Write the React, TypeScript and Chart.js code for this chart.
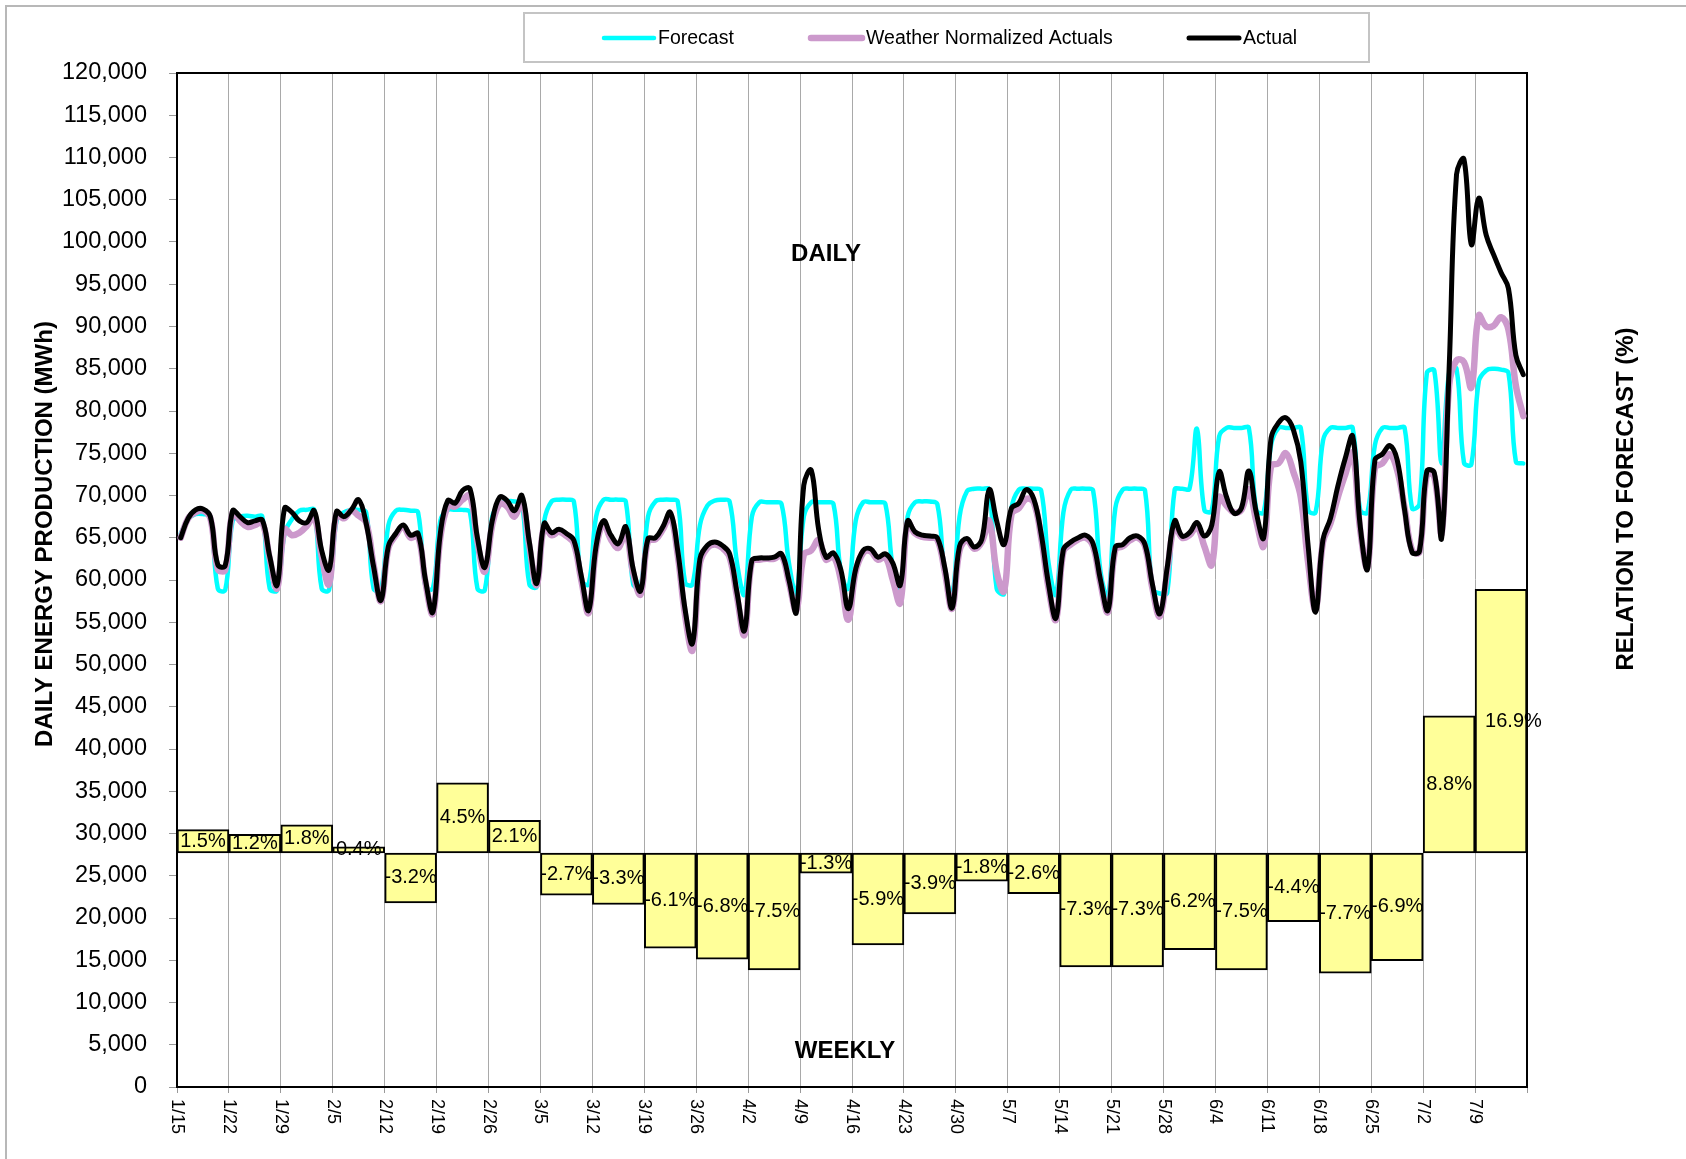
import React, { useEffect, useRef } from 'react';
import { Chart, registerables } from 'chart.js';

Chart.register(...registerables);

// Weekly tick labels (one every 7 days starting 1/15)
const TICK_LABELS = ['1/15', '1/22', '1/29', '2/5', '2/12', '2/19', '2/26', '3/5', '3/12', '3/19', '3/26', '4/2', '4/9', '4/16', '4/23', '4/30', '5/7', '5/14', '5/21', '5/28', '6/4', '6/11', '6/18', '6/25', '7/2', '7/9'];

// Weekly relation to forecast (%)
const WEEKLY_PCT = [1.5, 1.2, 1.8, 0.4, -3.2, 4.5, 2.1, -2.7, -3.3, -6.1, -6.8, -7.5, -1.3, -5.9, -3.9, -1.8, -2.6, -7.3, -7.3, -6.2, -7.5, -4.4, -7.7, -6.9, 8.8, 16.9];

// Daily values (MWh), 1/15 .. 7/15
const FORECAST = [
  65500, 67200, 67800, 67800, 67500, 59000, 58800,
  67000, 67500, 67600, 67500, 67500, 59000, 58800,
  65500, 67200, 68200, 68300, 68300, 59000, 58800,
  67000, 68000, 68300, 68300, 68000, 59000, 58800,
  66500, 68200, 68300, 68200, 68000, 59200, 59000,
  67000, 68300, 68300, 68300, 68000, 59000, 58800,
  67500, 69000, 69300, 69300, 69000, 59500, 59200,
  67000, 69300, 69500, 69500, 69300, 60000, 59500,
  67500, 69500, 69500, 69500, 69300, 59500, 59200,
  67500, 69300, 69500, 69500, 69300, 59700, 59500,
  66500, 68800, 69400, 69500, 69300, 62000, 58300,
  67500, 69200, 69200, 69200, 69000, 62000, 58400,
  67500, 69200, 69200, 69200, 69000, 61000, 59000,
  67000, 69200, 69200, 69200, 69000, 61500, 59000,
  67500, 69200, 69300, 69300, 69000, 61000, 58300,
  67500, 70500, 70800, 70800, 70700, 59000, 58400,
  68500, 70700, 70800, 70800, 70600, 62000, 58300,
  68000, 70700, 70800, 70800, 70600, 61000, 58000,
  68500, 70700, 70800, 70800, 70600, 59000, 58400,
  58500, 70700, 70800, 70800, 77900, 68300, 68200,
  77000, 78000, 78000, 78000, 78000, 68300, 68000,
  76000, 78000, 78000, 78000, 78000, 68300, 68000,
  76500, 78000, 78000, 78000, 78000, 68300, 68000,
  76000, 78000, 78000, 78000, 78000, 68500, 69000,
  84500, 84800, 73800, 84500, 85000, 73900, 73700,
  83500, 84800, 85000, 84900, 84500, 74000, 73800,
];

const WEATHER_NORMALIZED = [
  65000, 67300, 68000, 68200, 67300, 61300, 61200,
  68000, 67000, 66300, 66500, 66800, 62500, 59000,
  66000, 65300, 65600, 66400, 67500, 62800, 59500,
  67800, 67300, 68200, 67600, 66800, 61800, 57500,
  63800, 65300, 66300, 65000, 65200, 59700, 56000,
  65000, 68700, 68700, 69500, 70000, 64500, 61000,
  66500, 69000, 68700, 67500, 69300, 64000, 59400,
  66400, 65300, 65700, 65200, 64300, 60000, 56100,
  63700, 66600, 64800, 63800, 65700, 60800, 58300,
  64700, 64800, 66000, 67600, 63000, 55800, 51700,
  62000, 63800, 64200, 63800, 62700, 58000, 53500,
  62200, 62400, 62500, 62500, 62900, 59700, 56400,
  63000, 63500, 64700, 62400, 62800, 60000, 55300,
  61000, 63200, 63400, 62400, 62700, 60000, 57300,
  66800, 65500, 65100, 65000, 64800, 61000, 56600,
  63500, 64700, 63700, 64500, 67000, 61000, 58700,
  67800, 68500, 69600, 69200, 65000, 59000, 55300,
  63400, 64200, 64800, 65000, 64000, 59600, 56200,
  63600, 64000, 64700, 65000, 64000, 59000, 55700,
  61000, 66500, 65000, 65300, 66300, 64000, 61800,
  69800, 68800, 68000, 68300, 70700, 67000, 64000,
  73500, 73800, 75000, 72800, 69800, 62000, 56500,
  64500, 66700, 69800, 72500, 75000, 66000, 61500,
  73300, 73800, 74900, 73000, 68500, 63500, 63300,
  72500, 72200, 65500, 83000, 86000, 85800, 82800,
  91300, 90000, 90100, 91100, 89600, 83000, 79400,
];

const ACTUAL = [
  65000, 67300, 68300, 68400, 67500, 61800, 61700,
  68200, 67500, 66800, 67000, 67100, 62800, 59400,
  68500, 68000, 67000, 66800, 68200, 63500, 61200,
  68100, 67500, 68300, 69500, 66700, 61600, 57600,
  64000, 65500, 66500, 65300, 65500, 60000, 56200,
  65500, 69400, 69100, 70600, 70800, 65000, 61500,
  67000, 69800, 69400, 68200, 70000, 64500, 59600,
  66700, 65600, 66000, 65500, 64700, 60500, 56400,
  64000, 67000, 65300, 64300, 66300, 61300, 58700,
  64900, 65000, 66300, 68000, 63500, 56500, 52500,
  62500, 64100, 64500, 64100, 63100, 58500, 54000,
  62300, 62600, 62600, 62700, 63100, 60000, 56200,
  71200, 73000, 66000, 62700, 63200, 61200, 56600,
  61300, 63500, 63700, 62700, 63100, 62000, 59400,
  67000, 65700, 65300, 65200, 65000, 61500, 56700,
  64000, 64900, 63900, 64800, 70700, 67000, 64200,
  68500, 69100, 70700, 69600, 65500, 59500, 55500,
  63600, 64500, 65000, 65300, 64300, 60000, 56400,
  63900, 64200, 65000, 65200, 64200, 59500, 56000,
  61500, 67000, 65200, 65600, 66800, 65200, 66500,
  72800, 69800, 67900, 68500, 72900, 68000, 65000,
  76800, 78600, 79200, 77800, 74000, 64000, 56200,
  64800, 67300, 71100, 74400, 77000, 66500, 61300,
  74200, 74900, 75900, 74200, 68300, 63300, 63400,
  72900, 72700, 65000, 85000, 108000, 109800, 99700,
  105200, 100800, 98500, 96400, 94500, 86600, 84300,
];

const SERIES_LABELS = ['Forecast', 'Weather Normalized Actuals', 'Actual'];
const SERIES_COLORS = ['#00FFFF', '#CC99CC', '#000000'];
const SERIES_WIDTHS = [4.5, 6.5, 5];
const DAYS_ON_AXIS = 182;

const FONT = '"Liberation Sans", Arial, Helvetica, sans-serif';
const W = 1686;
const H = 1159;

const toPoints = (arr: number[]) => arr.map((v, i) => ({ x: i + 0.5, y: v }));

const decorPlugin = {
  id: 'decor',
  beforeDraw(chart: any) {
    const ctx = chart.ctx;
    ctx.save();
    ctx.fillStyle = '#ffffff';
    ctx.fillRect(0, 0, chart.width, chart.height);
    ctx.strokeStyle = '#b8b8b8';
    ctx.lineWidth = 2;
    ctx.beginPath();
    ctx.moveTo(6, chart.height + 5);
    ctx.lineTo(6, 6);
    ctx.lineTo(chart.width + 5, 6);
    ctx.stroke();
    ctx.restore();
  },
  afterDatasetsDraw(chart: any) {
    const ctx = chart.ctx;
    const area = chart.chartArea;
    ctx.save();
    // top frame line of the plot area
    ctx.strokeStyle = '#000';
    ctx.lineWidth = 2;
    ctx.beginPath();
    ctx.moveTo(area.left, area.top);
    ctx.lineTo(area.right, area.top);
    ctx.stroke();
    // bar value labels
    const meta = chart.getDatasetMeta(3);
    ctx.fillStyle = '#000';
    ctx.font = `20px ${FONT}`;
    ctx.textBaseline = 'middle';
    meta.data.forEach((el: any, i: number) => {
      const p = el.getProps(['x', 'y', 'base', 'width'], true);
      const txt = `${WEEKLY_PCT[i].toFixed(1)}%`;
      const tw = ctx.measureText(txt).width;
      const cy = (p.y + p.base) / 2;
      if (tw > p.width + 4) {
        // wide labels start a little inside the bar, as in the original
        ctx.textAlign = 'left';
        ctx.fillText(txt, p.x - p.width / 2 + 10, cy);
      } else {
        ctx.textAlign = 'center';
        ctx.fillText(txt, p.x, cy);
      }
    });
    ctx.restore();
  },
  afterDraw(chart: any) {
    const ctx = chart.ctx;
    ctx.save();
    // legend box
    ctx.strokeStyle = '#c4c4c4';
    ctx.lineWidth = 2;
    ctx.strokeRect(524, 13, 845, 49);
    const legendPos = [
      [604, 654, 658],
      [811, 862, 866],
      [1189, 1239, 1243],
    ];
    const ly = 38;
    ctx.font = `19.5px ${FONT}`;
    ctx.textBaseline = 'middle';
    ctx.textAlign = 'left';
    for (let i = 0; i < 3; i++) {
      const [x1, x2, tx] = legendPos[i];
      ctx.strokeStyle = SERIES_COLORS[i];
      ctx.lineWidth = SERIES_WIDTHS[i];
      ctx.lineCap = 'round';
      ctx.beginPath();
      ctx.moveTo(x1, ly);
      ctx.lineTo(x2, ly);
      ctx.stroke();
      ctx.fillStyle = '#000';
      ctx.fillText(SERIES_LABELS[i], tx, ly + 1);
    }
    // axis titles
    ctx.fillStyle = '#000';
    ctx.font = `bold 24px ${FONT}`;
    ctx.textAlign = 'center';
    ctx.textBaseline = 'middle';
    ctx.save();
    ctx.translate(45, 534);
    ctx.rotate(-Math.PI / 2);
    ctx.fillText('DAILY ENERGY PRODUCTION (MWh)', 0, 0);
    ctx.restore();
    ctx.save();
    ctx.translate(1626, 499);
    ctx.rotate(-Math.PI / 2);
    ctx.fillText('RELATION TO FORECAST (%)', 0, 0);
    ctx.restore();
    // in-plot titles
    ctx.fillText('DAILY', 826, 254);
    ctx.fillText('WEEKLY', 845, 1051);
    // x tick labels, rotated clockwise
    const xs = chart.scales.x;
    ctx.font = `18px ${FONT}`;
    ctx.textAlign = 'left';
    ctx.textBaseline = 'middle';
    TICK_LABELS.forEach((lab, i) => {
      const x = xs.getPixelForValue(i * 7);
      ctx.save();
      ctx.translate(x, chart.chartArea.bottom + 12);
      ctx.rotate(Math.PI / 2);
      ctx.fillText(lab, 0, 0);
      ctx.restore();
    });
    ctx.restore();
  },
};

export default function App() {
  const ref = useRef<HTMLCanvasElement | null>(null);

  useEffect(() => {
    document.body.style.margin = '0';
    const canvas = ref.current;
    if (!canvas) return;
    const lineCommon = {
      type: 'line',
      pointRadius: 0,
      tension: 0.4,
      borderCapStyle: 'round',
      borderJoinStyle: 'round',
      xAxisID: 'x',
      yAxisID: 'y',
    };
    const chart = new Chart(canvas, {
      type: 'line',
      data: {
        datasets: [
          {
            ...lineCommon,
            label: SERIES_LABELS[0],
            data: toPoints(FORECAST),
            borderColor: SERIES_COLORS[0],
            borderWidth: SERIES_WIDTHS[0],
            order: 3,
          },
          {
            ...lineCommon,
            label: SERIES_LABELS[1],
            data: toPoints(WEATHER_NORMALIZED),
            borderColor: SERIES_COLORS[1],
            borderWidth: SERIES_WIDTHS[1],
            order: 2,
          },
          {
            ...lineCommon,
            label: SERIES_LABELS[2],
            data: toPoints(ACTUAL),
            borderColor: SERIES_COLORS[2],
            borderWidth: SERIES_WIDTHS[2],
            order: 1,
          },
          {
            type: 'bar',
            label: 'Weekly',
            data: WEEKLY_PCT,
            backgroundColor: '#FFFF99',
            borderColor: '#000000',
            borderWidth: 2,
            borderSkipped: false,
            grouped: false,
            barPercentage: 1,
            categoryPercentage: 1,
            xAxisID: 'xw',
            yAxisID: 'yPct',
            order: 4,
          },
        ] as any,
      },
      options: {
        responsive: false,
        animation: false,
        events: [],
        devicePixelRatio: 1,
        layout: { padding: { top: 73, left: 0, right: 0, bottom: 0 } },
        plugins: {
          legend: { display: false },
          tooltip: { enabled: false },
          title: { display: false },
        },
        scales: {
          x: {
            type: 'linear',
            position: 'bottom',
            min: 0,
            max: DAYS_ON_AXIS,
            ticks: { stepSize: 7, display: false, autoSkip: false },
            grid: { color: '#a9a9a9', lineWidth: 1, drawTicks: true, tickLength: 6, tickColor: '#999' },
            border: { display: true, color: '#000', width: 2 },
            afterFit: (s: any) => { s.height = 72; },
          },
          xw: {
            type: 'category',
            labels: TICK_LABELS,
            offset: true,
            display: false,
          },
          y: {
            type: 'linear',
            position: 'left',
            min: 0,
            max: 120000,
            ticks: {
              stepSize: 5000,
              autoSkip: false,
              padding: 22,
              color: '#000',
              font: { family: FONT, size: 23.5 },
              callback: (v: any) => Number(v).toLocaleString('en-US'),
            },
            grid: { drawOnChartArea: false, drawTicks: true, tickLength: 8, color: '#999' },
            border: { display: true, color: '#000', width: 2 },
            afterFit: (s: any) => { s.width = 177; },
          },
          yPct: {
            type: 'linear',
            position: 'right',
            min: -15,
            max: 50,
            ticks: { display: false },
            grid: { display: false, drawOnChartArea: false },
            border: { display: true, color: '#000', width: 2 },
            afterFit: (s: any) => { s.width = 159; },
          },
        },
      } as any,
      plugins: [decorPlugin],
    });
    return () => chart.destroy();
  }, []);

  return (
    <div style={{ position: 'absolute', left: 0, top: 0, width: W, height: H }}>
      <canvas ref={ref} width={W} height={H} style={{ width: W, height: H, display: 'block' }} />
    </div>
  );
}
